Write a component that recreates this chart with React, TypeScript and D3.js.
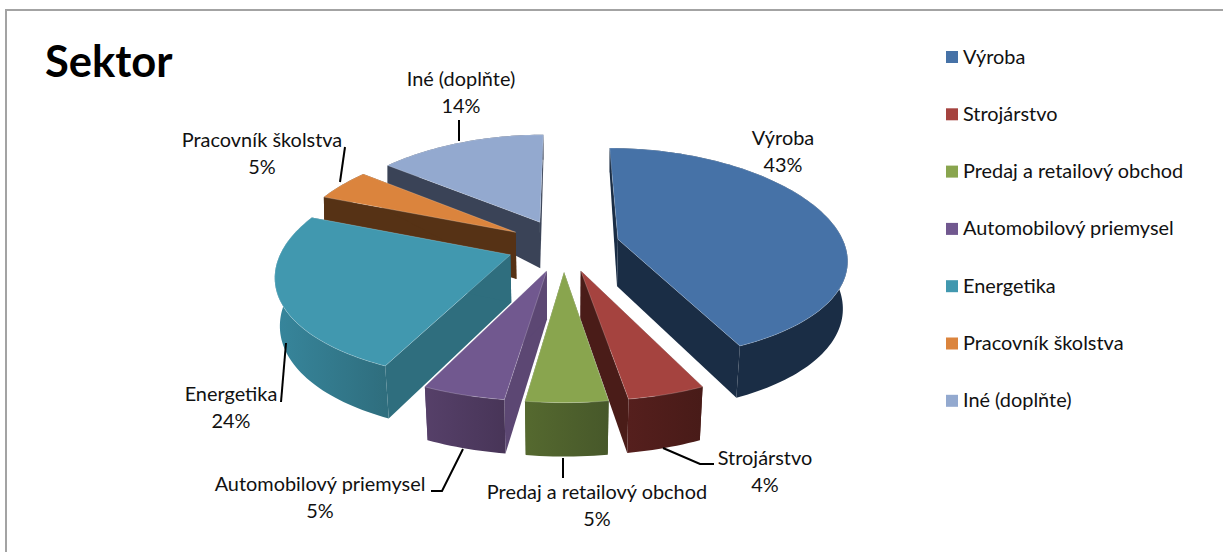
import React from "react";
import * as d3 from "d3";

const categories = ["Výroba", "Strojárstvo", "Predaj a retailový obchod", "Automobilový priemysel", "Energetika", "Pracovník školstva", "Iné (doplňte)"];
const values = [43.0, 4.49, 4.72, 4.8, 23.9, 4.74, 14.35];
const topColors = ["#4672a7", "#a5433f", "#89a54e", "#71588f", "#4198af", "#db843d", "#93a9cf"];
const sideColors = ["#1a2d45", "#4a1c18", "#4c5f2b", "#5c4773", "#2f6e7e", "#563215", "#3a4357"];
const wallLeft = ["#1a2d45", "#551f1d", "#55692f", "#564069", "#37869c", "#563215", "#3a4357"];
const wallRight = ["#1a2d45", "#481b18", "#47582a", "#483558", "#2f6e7e", "#563215", "#3a4357"];
const drawOrder = [6, 5, 4, 0, 3, 1, 2];

const R = 0.135, EXPLODE = 0.0335;
const CX = 563.5, VY = -533, A = 778, B = 1680;
const depth = d3.scaleLinear().domain([-0.17, -0.07, -0.033, 0.17]).range([25, 23, 46, 54]).clamp(true);
const shrink = d3.scaleLinear().domain([-0.07, -0.033, 0.1]).range([1, 0.985, 0.98]).clamp(true);
const widthScale = d3.scaleLinear().domain([-0.16, 0, 0.15]).range([0.955, 1, 1.04]).clamp(true);

type P = { x: number; y: number };
const project = (u: number, v: number): P => {
  const w = 1 / (1 - v);
  return { x: CX + B * u * w * widthScale(v), y: VY + A * w };
};
const ground = (ang: number, r: number, ox: number, oy: number) => ({ u: ox + r * Math.sin(ang), v: oy - r * Math.cos(ang) });
const lower = (u: number, v: number): P => {
  const p = project(u, v);
  return { x: CX + (p.x - CX) * shrink(v), y: p.y + depth(v) };
};
const line = d3.line<P>().x((d) => d.x).y((d) => d.y);

const arcs = d3.pie<number>().sort(null).value((d) => d)(values);
const total = d3.sum(values);
const pct = values.map((v) => `${Math.round((v / total) * 100)}%`);

const slices = arcs.map((a, i) => {
  const mid = (a.startAngle + a.endAngle) / 2;
  const ox = EXPLODE * Math.sin(mid), oy = -EXPLODE * Math.cos(mid);
  const n = Math.max(4, Math.ceil((a.endAngle - a.startAngle) * 40));
  const rim = d3.range(n + 1).map((k) => ground(a.startAngle + ((a.endAngle - a.startAngle) * k) / n, R, ox, oy));
  const topRim = rim.map((g) => project(g.u, g.v));
  const botRim = rim.map((g) => lower(g.u, g.v));
  const apexT = project(ox, oy), apexB = lower(ox, oy);
  return {
    i,
    top: line([apexT, ...topRim])! + "Z",
    wall: line([...topRim, ...[...botRim].reverse()])! + "Z",
    sideA: line([apexT, topRim[0], botRim[0], apexB])! + "Z",
    sideB: line([apexT, topRim[n], botRim[n], apexB])! + "Z",
    x0: d3.min(topRim, (d) => d.x)!,
    x1: d3.max(topRim, (d) => d.x)!,
  };
});

const labelLayout = [
  { x: 783, y: 145 }, { x: 765, y: 465 }, { x: 597, y: 499 }, { x: 320, y: 491 },
  { x: 231, y: 401 }, { x: 262, y: 147 }, { x: 461, y: 86 },
];
const leaders = [
  "", "M663,448L700,464L714,464", "M563,458L563,478", "M463,449L442,491L431,491",
  "M286,343L281,402", "M340,182L345,147", "M459,141L459,120",
];
const FONT = "Lato, Carlito, sans-serif";

export default function App() {
  return (
    <svg width={1223} height={552} style={{ position: "absolute", left: 0, top: 0, background: "#fff" }} fontFamily={FONT}>
      <defs>
        {slices.map((s) => (
          <linearGradient key={s.i} id={`w${s.i}`} gradientUnits="userSpaceOnUse" x1={s.x0} x2={s.x1} y1={0} y2={0}>
            <stop offset="0" stopColor={wallLeft[s.i]} />
            <stop offset="1" stopColor={wallRight[s.i]} />
          </linearGradient>
        ))}
      </defs>
      <path d="M6,552V10H1223" fill="none" stroke="#a3a3a3" strokeWidth={2} />
      <text x={45} y={77} fontSize={43.5} fontWeight={700} fill="#000">Sektor</text>
      {drawOrder.map((idx) => {
        const s = slices[idx];
        return (
          <g key={idx}>
            <path d={s.sideA} fill={sideColors[idx]} />
            <path d={s.sideB} fill={sideColors[idx]} />
            <path d={s.wall} fill={`url(#w${idx})`} />
            <path d={s.top} fill={topColors[idx]} stroke="#fff" strokeOpacity={0.3} strokeWidth={0.7} />
          </g>
        );
      })}
      {leaders.map((d, i) => d && <path key={i} d={d} fill="none" stroke="#000" strokeWidth={2} />)}
      {categories.map((c, i) => (
        <text key={c} x={labelLayout[i].x} y={labelLayout[i].y} textAnchor="middle" fontSize={19.9} fill="#111">
          <tspan x={labelLayout[i].x} dy={0}>{c}</tspan>
          <tspan x={labelLayout[i].x} dy={26.5}>{pct[i]}</tspan>
        </text>
      ))}
      {categories.map((c, i) => {
        const y = 57 + i * 57.3;
        return (
          <g key={c}>
            <rect x={946} y={y - 6} width={12} height={12} fill={topColors[i]} />
            <text x={963} y={y + 6.5} fontSize={19.9} fill="#111">{c}</text>
          </g>
        );
      })}
    </svg>
  );
}
